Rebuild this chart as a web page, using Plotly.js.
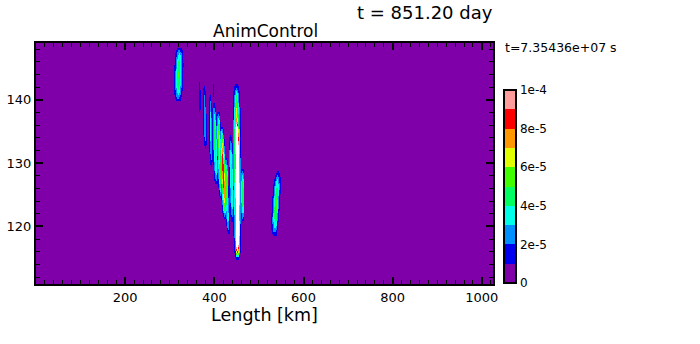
<!DOCTYPE html>
<html>
<head>
<meta charset="utf-8">
<script src="https://cdn.plot.ly/plotly-3.0.1.min.js"></script>
<style>body{margin:0;background:#fff;} #chart{width:700px;height:344px;}</style>
</head>
<body>
<div id="chart"></div>
<script>
// Streak-shaped features (km, y units, value)
const streakXTop  = [322, 367, 378, 391, 400, 409, 417, 425, 437, 450, 451, 463, 543, 398, 430];
const streakXBot  = [319, 368, 381, 394, 405, 415, 424, 432, 441, 452, 453, 464, 535, 400, 434];
const streakYTop  = [148.6, 143.5, 142.8, 141.3, 139.8, 138.3, 135.8, 131.3, 134.8, 142.8, 137.5, 129.3, 128.9, 143.2, 127.3];
const streakYBot  = [139.5, 137.2, 131.7, 128.7, 126.2, 124.2, 121.2, 118.7, 120.2, 114.4, 115.0, 120.7, 118.3, 139.8, 118.2];
const streakHalfW = [8, 2.5, 3.5, 4, 4, 4.5, 4, 4, 4, 6.5, 4, 4, 7, 2, 3];
const streakPeak  = [5.2e-5, 1.8e-5, 3.0e-5, 3.8e-5, 5.0e-5, 7.0e-5, 9.0e-5, 6.0e-5, 4.5e-5, 9.8e-5, 3.0e-4, 5.0e-5, 5.2e-5, 1.6e-5, 3.2e-5];

// Colour bands (0 .. 1e-4 in 10 steps)
const bandColors = ['#7f00a8', '#0000ee', '#0090ff', '#00ffe8', '#00ff60', '#40ff00', '#e0ff00', '#ff9800', '#ff0000', '#ff9c9c'];
const cbTickVals = [0, 2e-5, 4e-5, 6e-5, 8e-5, 1e-4];
const cbTickText = ['0', '2e-5', '4e-5', '6e-5', '8e-5', '1e-4'];
const xTickVals = [200, 400, 600, 800, 1000];
const yTickVals = [120, 130, 140];

// grid
const xGrid = []; for (let x = 1; x <= 1025; x += 2) xGrid.push(x);
const yGrid = []; for (let y = 110.9; y <= 149.2; y += 0.3) yGrid.push(+y.toFixed(2));

const z = [], zWhite = [];
for (const y of yGrid) {
  const row = [], roww = [];
  for (const x of xGrid) {
    let v = 0;
    for (let k = 0; k < streakPeak.length; k++) {
      const yt = streakYTop[k], yb = streakYBot[k];
      if (y > yt || y < yb) continue;
      const t = (y - yb) / (yt - yb);
      const xc = streakXBot[k] + (streakXTop[k] - streakXBot[k]) * t;
      const dx = (x - xc) / streakHalfW[k];
      const val = streakPeak[k] * Math.pow(4 * t * (1 - t), 0.7) * Math.exp(-dx * dx);
      if (val > v) v = val;
    }
    row.push(v);
    roww.push(v > 1e-4 ? 1 : null);
  }
  z.push(row); zWhite.push(roww);
}

const cs = [];
for (let i = 0; i < bandColors.length; i++) {
  cs.push([i / bandColors.length, bandColors[i]]);
  cs.push([(i + 1) / bandColors.length, bandColors[i]]);
}

const font = 'DejaVu Sans, sans-serif';

const traces = [
  {
    type: 'heatmap', x: xGrid, y: yGrid, z: z, zmin: 0, zmax: 1e-4, zsmooth: false,
    colorscale: cs, hoverinfo: 'skip',
    colorbar: {
      x: 1.024, xanchor: 'left', xpad: 0, ypad: 0, thickness: 12,
      len: 0.80, lenmode: 'fraction', y: 0.004, yanchor: 'bottom',
      outlinewidth: 2, outlinecolor: '#000',
      tickvals: cbTickVals, ticktext: cbTickText, ticks: '',
      tickfont: {family: font, size: 12, color: '#000'}
    }
  },
  {
    type: 'heatmap', x: xGrid, y: yGrid, z: zWhite, zsmooth: false,
    colorscale: [[0, '#ffffff'], [1, '#ffffff']], showscale: false, hoverinfo: 'skip'
  }
];

const layout = {
  width: 700, height: 344,
  margin: {l: 36, r: 207, t: 43, b: 60},
  paper_bgcolor: '#fff', plot_bgcolor: '#7f00a8',
  font: {family: font, color: '#000'},
  showlegend: false,
  xaxis: {
    range: [0, 1025], tickvals: xTickVals, ticks: 'inside', ticklen: 7, tickwidth: 2,
    tickcolor: '#000', linecolor: '#000', linewidth: 2, mirror: 'ticks',
    showgrid: false, zeroline: false,
    minor: {ticks: 'inside', dtick: 20, tick0: 0, ticklen: 4, tickwidth: 1, tickcolor: '#000'},
    tickfont: {family: font, size: 13, color: '#000'},
    title: {text: 'Length [km]', font: {family: font, size: 17.5, color: '#000'}, standoff: 4}
  },
  yaxis: {
    range: [110.9, 149.0], tickvals: yTickVals, ticks: 'inside', ticklen: 7, tickwidth: 2,
    tickcolor: '#000', linecolor: '#000', linewidth: 2, mirror: 'ticks',
    showgrid: false, zeroline: false,
    minor: {ticks: 'inside', dtick: 2, tick0: 0, ticklen: 4, tickwidth: 1, tickcolor: '#000'},
    tickfont: {family: font, size: 13, color: '#000'}
  },
  annotations: [
    {text: 't = 851.20 day', xref: 'paper', yref: 'paper', x: (425 - 36) / 457, y: 1 + (43 - 0) / 241,
     xanchor: 'center', yanchor: 'top', showarrow: false, font: {family: font, size: 18, color: '#000'}},
    {text: 'AnimControl', xref: 'paper', yref: 'paper', x: (265 - 36) / 457, y: 1 + (43 - 31) / 241,
     xanchor: 'center', yanchor: 'middle', showarrow: false, font: {family: font, size: 17, color: '#000'}},
    {text: 't=7.35436e+07 s', xref: 'paper', yref: 'paper', x: (503 - 36) / 457, y: 1 + (43 - 47) / 241,
     xanchor: 'left', yanchor: 'middle', showarrow: false, font: {family: font, size: 12.5, color: '#000'}}
  ]
};

Plotly.newPlot('chart', traces, layout, {staticPlot: true, displayModeBar: false});
</script>
</body>
</html>
